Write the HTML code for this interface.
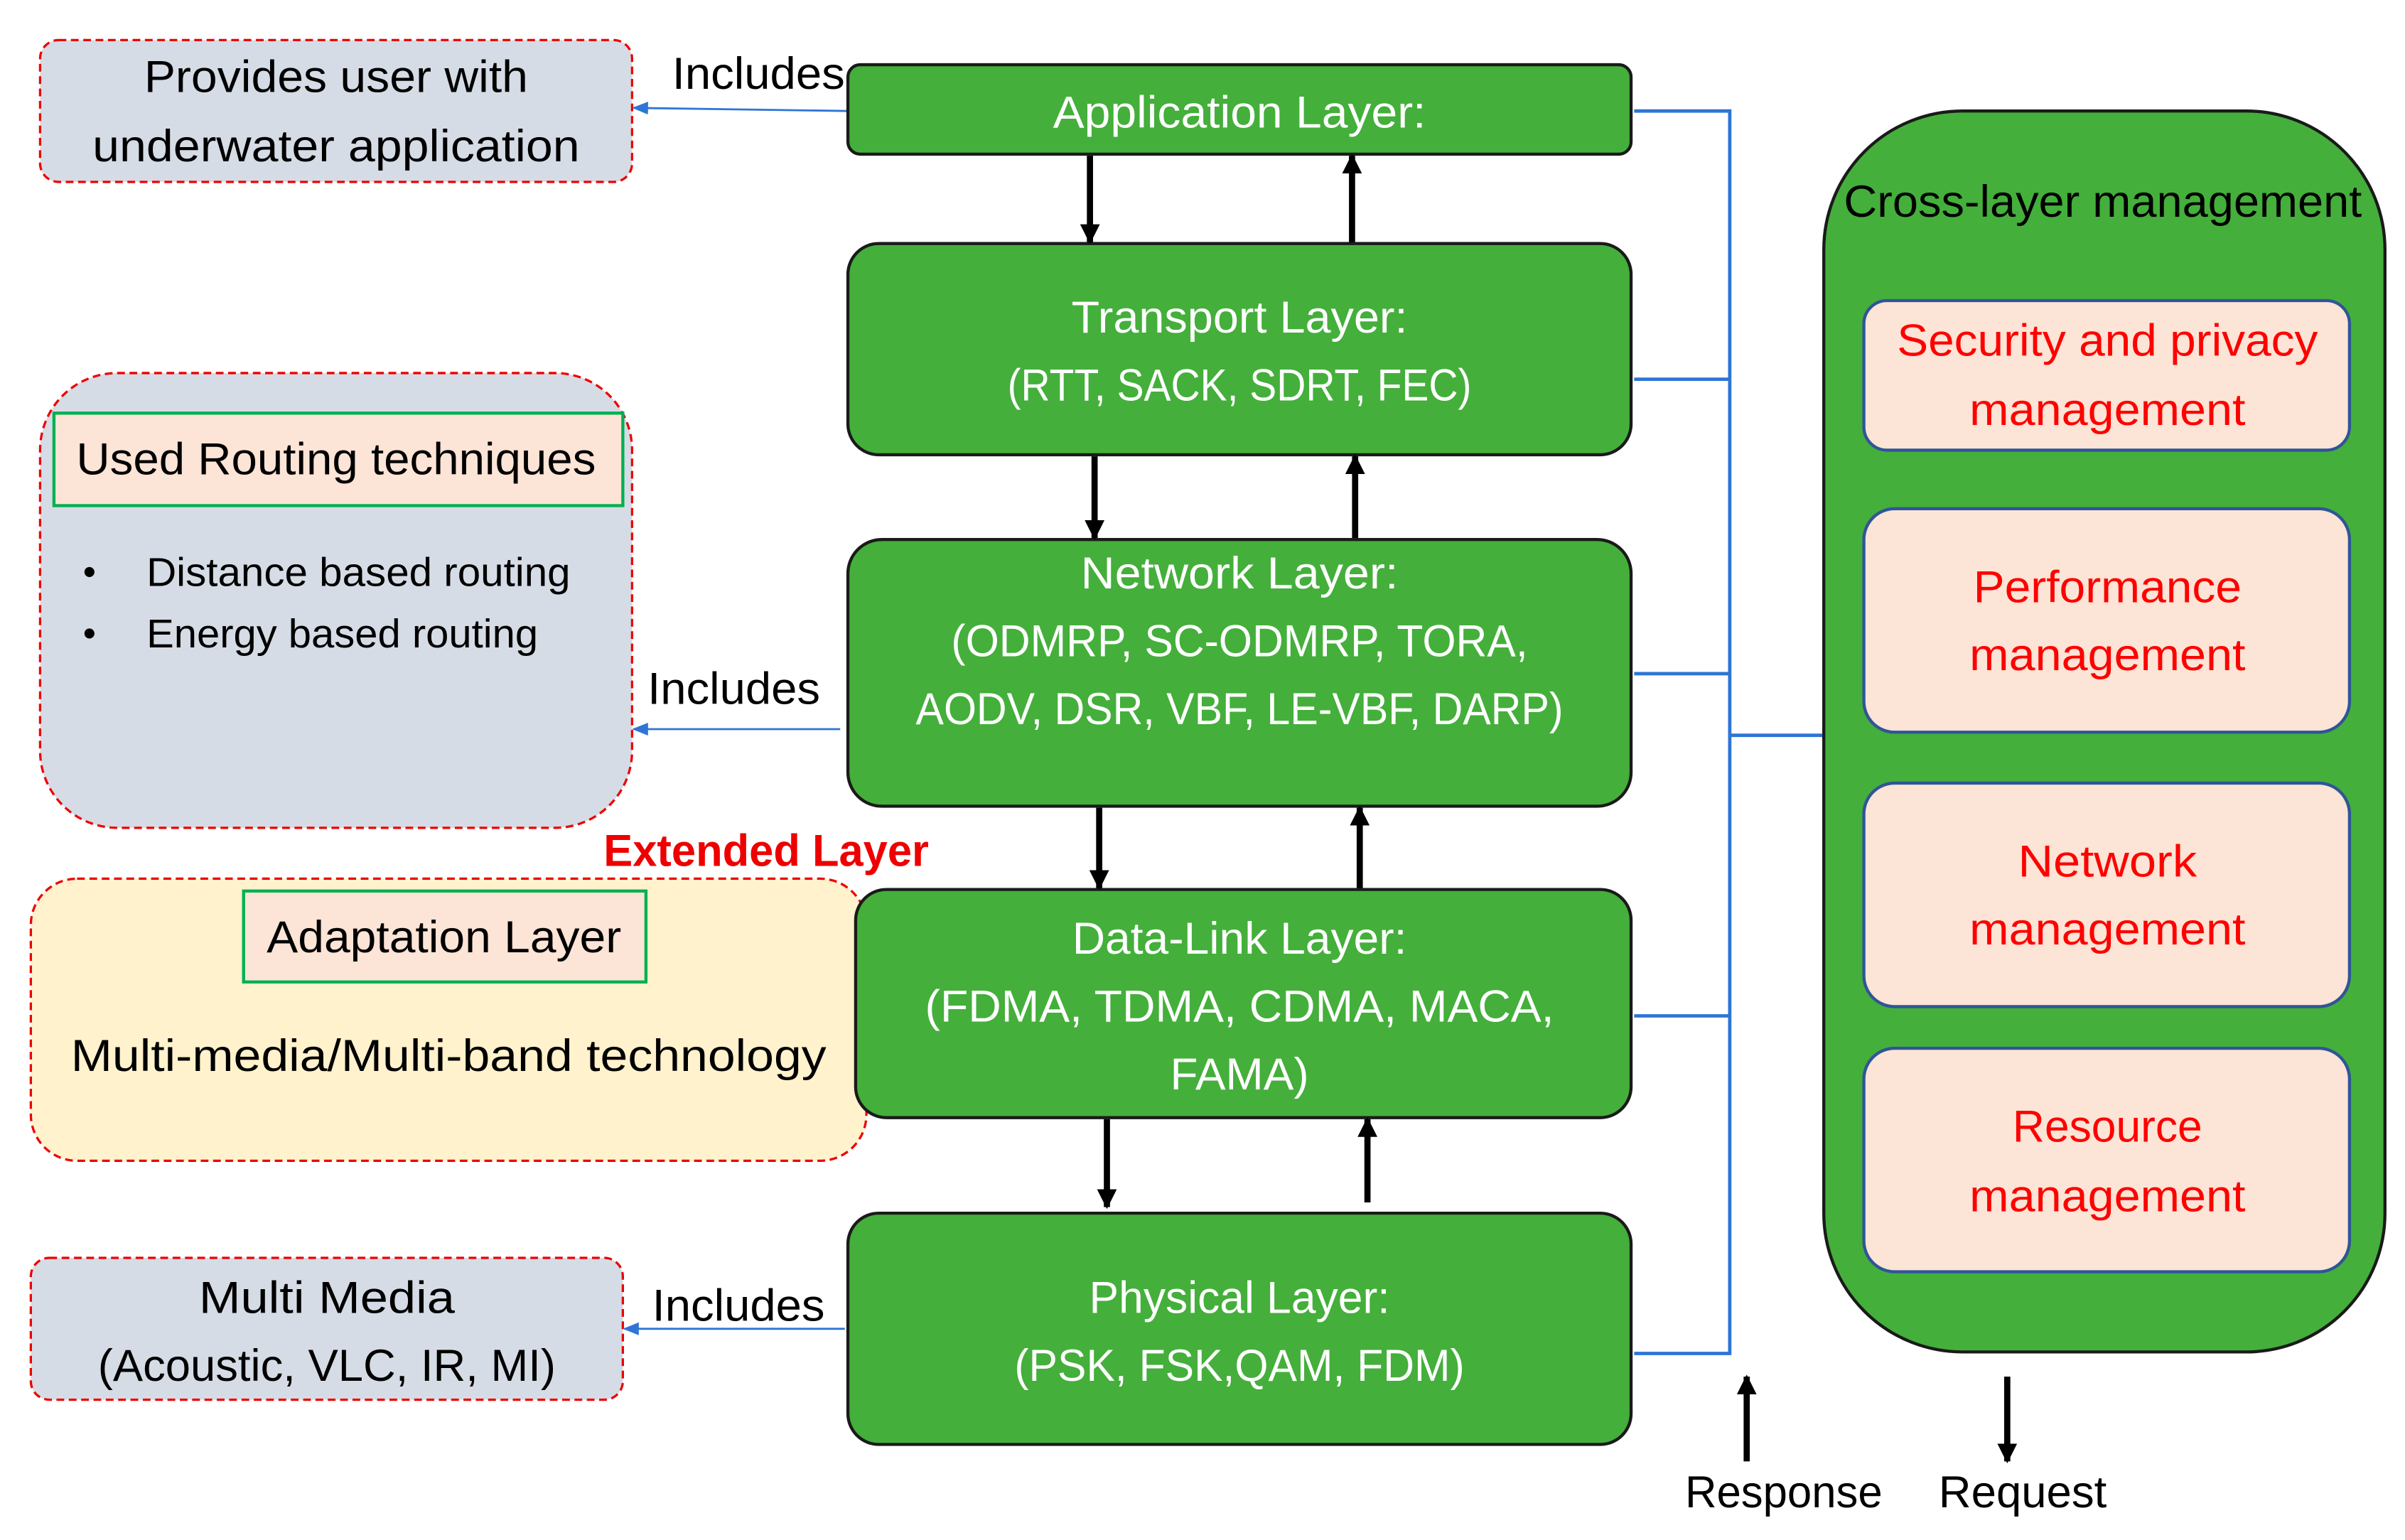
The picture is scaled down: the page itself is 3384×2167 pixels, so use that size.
<!DOCTYPE html>
<html><head><meta charset="utf-8"><style>html,body{margin:0;padding:0;background:#fff}svg{display:block}</style></head>
<body>
<svg width="3384" height="2167" viewBox="0 0 1560 999" preserveAspectRatio="none" xmlns="http://www.w3.org/2000/svg" font-family="Liberation Sans, sans-serif" font-size="29">
<defs>
<marker id="bk" viewBox="0 0 10 10" refX="9" refY="5" markerWidth="3.2" markerHeight="4" orient="auto" markerUnits="strokeWidth"><path d="M0,0L10,5L0,10z" fill="#000"/></marker>
<marker id="bl" viewBox="0 0 10 10" refX="9" refY="5" markerWidth="8" markerHeight="8" orient="auto" markerUnits="strokeWidth"><path d="M0,1L10,5L0,9z" fill="#2e75d6"/></marker>
</defs>
<g dominant-baseline="central" text-anchor="middle">
<!-- left boxes -->
<rect x="26" y="26" width="384" height="92" rx="12" fill="#d6dce5" stroke="#e00" stroke-width="1.5" stroke-dasharray="5,3"/>
<text x="218" y="50" textLength="249" lengthAdjust="spacingAndGlyphs">Provides user with</text>
<text x="218" y="95" textLength="316" lengthAdjust="spacingAndGlyphs">underwater application</text>
<text x="492" y="48" textLength="112" lengthAdjust="spacingAndGlyphs">Includes</text>
<line x1="550" y1="72" x2="411" y2="70" stroke="#2e75d6" stroke-width="1.3" marker-end="url(#bl)"/>

<rect x="26" y="242" width="384" height="295" rx="50" fill="#d6dce5" stroke="#e00" stroke-width="1.5" stroke-dasharray="5,3"/>
<rect x="35" y="268" width="369" height="60" fill="#fce4d6" stroke="#00b050" stroke-width="2"/>
<text x="218" y="298" textLength="337" lengthAdjust="spacingAndGlyphs">Used Routing techniques</text>
<text x="58" y="371" font-size="24">•</text><text x="58" y="411" font-size="24">•</text>
<text x="95" y="371" text-anchor="start" font-size="26" textLength="275" lengthAdjust="spacingAndGlyphs">Distance based routing</text>
<text x="95" y="411" text-anchor="start" font-size="26" textLength="254" lengthAdjust="spacingAndGlyphs">Energy based routing</text>
<text x="476" y="447" textLength="112" lengthAdjust="spacingAndGlyphs">Includes</text>
<line x1="545" y1="473" x2="411" y2="473" stroke="#2e75d6" stroke-width="1.3" marker-end="url(#bl)"/>

<text x="497" y="552" fill="#e00" font-weight="bold" textLength="211" lengthAdjust="spacingAndGlyphs">Extended Layer</text>
<rect x="20" y="570" width="542" height="183" rx="30" fill="#fff2cc" stroke="#e00" stroke-width="1.5" stroke-dasharray="5,3"/>
<rect x="158" y="578" width="261" height="59" fill="#fce4d6" stroke="#00b050" stroke-width="2"/>
<text x="288" y="608" textLength="230" lengthAdjust="spacingAndGlyphs">Adaptation Layer</text>
<text x="291" y="685" textLength="490" lengthAdjust="spacingAndGlyphs">Multi-media/Multi-band technology</text>

<rect x="20" y="816" width="384" height="92" rx="12" fill="#d6dce5" stroke="#e00" stroke-width="1.5" stroke-dasharray="5,3"/>
<text x="212" y="842" textLength="166" lengthAdjust="spacingAndGlyphs">Multi Media</text>
<text x="212" y="886" textLength="297" lengthAdjust="spacingAndGlyphs">(Acoustic, VLC, IR, MI)</text>
<text x="479" y="847" textLength="112" lengthAdjust="spacingAndGlyphs">Includes</text>
<line x1="548" y1="862" x2="405" y2="862" stroke="#2e75d6" stroke-width="1.3" marker-end="url(#bl)"/>

<!-- layers -->
<g fill="#44af3b" stroke="#1a1a1a" stroke-width="2">
<rect x="550" y="42" width="508" height="58" rx="8"/>
<rect x="550" y="158" width="508" height="137" rx="20"/>
<rect x="550" y="350" width="508" height="173" rx="22"/>
<rect x="555" y="577" width="503" height="148" rx="20"/>
<rect x="550" y="787" width="508" height="150" rx="20"/>
</g>
<g fill="#fff">
<text x="804" y="73" textLength="242" lengthAdjust="spacingAndGlyphs">Application Layer:</text>
<text x="804" y="206" textLength="218" lengthAdjust="spacingAndGlyphs">Transport Layer:</text>
<text x="804" y="250" textLength="301" lengthAdjust="spacingAndGlyphs">(RTT, SACK, SDRT, FEC)</text>
<text x="804" y="372" textLength="206" lengthAdjust="spacingAndGlyphs">Network Layer:</text>
<text x="804" y="416" textLength="374" lengthAdjust="spacingAndGlyphs">(ODMRP, SC-ODMRP, TORA,</text>
<text x="804" y="460" textLength="420" lengthAdjust="spacingAndGlyphs">AODV, DSR, VBF, LE-VBF, DARP)</text>
<text x="804" y="609" textLength="217" lengthAdjust="spacingAndGlyphs">Data-Link Layer:</text>
<text x="804" y="653" textLength="408" lengthAdjust="spacingAndGlyphs">(FDMA, TDMA, CDMA, MACA,</text>
<text x="804" y="697" textLength="90" lengthAdjust="spacingAndGlyphs">FAMA)</text>
<text x="804" y="842" textLength="195" lengthAdjust="spacingAndGlyphs">Physical Layer:</text>
<text x="804" y="886" textLength="292" lengthAdjust="spacingAndGlyphs">(PSK, FSK,QAM, FDM)</text>
</g>
<g stroke="#000" stroke-width="4" marker-end="url(#bk)">
<line x1="707" y1="101" x2="707" y2="157"/><line x1="877" y1="157" x2="877" y2="101"/>
<line x1="710" y1="296" x2="710" y2="349"/><line x1="879" y1="349" x2="879" y2="296"/>
<line x1="713" y1="524" x2="713" y2="576"/><line x1="882" y1="576" x2="882" y2="524"/>
<line x1="718" y1="726" x2="718" y2="783"/><line x1="887" y1="780" x2="887" y2="726"/>
<line x1="1133" y1="948" x2="1133" y2="893"/><line x1="1302" y1="893" x2="1302" y2="948"/>
</g>
<g stroke="#2e75d6" stroke-width="2.2" fill="none">
<path d="M1060 72H1122V878H1060M1060 246H1122M1060 437H1122M1060 659H1122M1122 477H1182"/>
</g>
<text x="1157" y="968" textLength="128" lengthAdjust="spacingAndGlyphs">Response</text>
<text x="1312" y="968" textLength="109" lengthAdjust="spacingAndGlyphs">Request</text>

<rect x="1183" y="72" width="364" height="805" rx="90" fill="#44af3b" stroke="#1a1a1a" stroke-width="2"/>
<text x="1364" y="131" textLength="336" lengthAdjust="spacingAndGlyphs">Cross-layer management</text>
<g fill="#fce4d6" stroke="#2f5597" stroke-width="2">
<rect x="1209" y="195" width="315" height="97" rx="15"/>
<rect x="1209" y="330" width="315" height="145" rx="20"/>
<rect x="1209" y="508" width="315" height="145" rx="20"/>
<rect x="1209" y="680" width="315" height="145" rx="20"/>
</g>
<g fill="#f00">
<text x="1367" y="221" textLength="273" lengthAdjust="spacingAndGlyphs">Security and privacy</text>
<text x="1367" y="266" textLength="179" lengthAdjust="spacingAndGlyphs">management</text>
<text x="1367" y="381" textLength="174" lengthAdjust="spacingAndGlyphs">Performance</text>
<text x="1367" y="425" textLength="179" lengthAdjust="spacingAndGlyphs">management</text>
<text x="1367" y="559" textLength="116" lengthAdjust="spacingAndGlyphs">Network</text>
<text x="1367" y="603" textLength="179" lengthAdjust="spacingAndGlyphs">management</text>
<text x="1367" y="731" textLength="123" lengthAdjust="spacingAndGlyphs">Resource</text>
<text x="1367" y="776" textLength="179" lengthAdjust="spacingAndGlyphs">management</text>
</g>
</g>
</svg>
</body></html>
